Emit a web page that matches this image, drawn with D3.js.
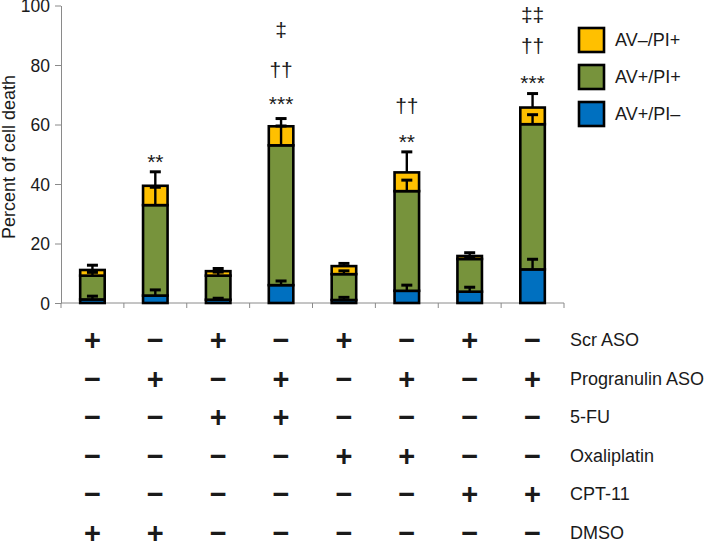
<!DOCTYPE html>
<html><head><meta charset="utf-8">
<script src="https://cdn.jsdelivr.net/npm/d3@7"></script>
<style>
body{margin:0;background:#fff}
svg{display:block}
text{font-family:"Liberation Sans",Arial,sans-serif;fill:#1a1a1a}
</style>
</head><body>
<svg id="c" width="709" height="542"></svg>
<script>
// ---- data ----
const groups = ["1","2","3","4","5","6","7","8"];
const seriesNames = ["AV+/PI–","AV+/PI+","AV–/PI+"];          // bottom → top
const avPosPiNeg = [1.2, 2.5, 1.1, 6.0, 1.0, 4.1, 3.8, 11.3];   // blue
const avPosPiNegErr = [1.1, 1.9, 0.5, 1.4, 0.9, 1.9, 1.5, 3.4];
const avPosPiPos = [8.0, 30.4, 8.1, 47.0, 8.7, 33.5, 11.0, 48.8]; // green
const avPosPiPosErr = [1.1, 6.0, 1.2, 6.5, 1.1, 3.7, 0.8, 3.2];
const avNegPiPos = [1.9, 6.5, 1.5, 6.4, 2.7, 6.3, 1.0, 5.6];     // yellow
const avNegPiPosErr = [1.6, 4.7, 0.9, 2.6, 0.9, 6.9, 1.1, 4.7];
const yTicks = [0, 20, 40, 60, 80, 100];
// significance marks and the value level (data units) at which each sits
const stars = ["", "**", "", "***", "", "**", "", "***"];
const starLevel = [0, 45.0, 0, 64.4, 0, 51.6, 0, 71.5];
const daggers = ["", "", "", "††", "", "††", "", "††"];
const daggerLevel = [0, 0, 0, 75.8, 0, 63.8, 0, 84.0];
const ddaggers = ["", "", "", "‡", "", "", "", "‡‡"];
const ddaggerLevel = [0, 0, 0, 89.3, 0, 0, 0, 94.3];
const treatments = ["Scr ASO","Progranulin ASO","5-FU","Oxaliplatin","CPT-11","DMSO"];
const scrASO      = ["+","−","+","−","+","−","+","−"];
const progASO     = ["−","+","−","+","−","+","−","+"];
const fu5         = ["−","−","+","+","−","−","−","−"];
const oxaliplatin = ["−","−","−","−","+","+","−","−"];
const cpt11       = ["−","−","−","−","−","−","+","+"];
const dmso        = ["+","+","−","−","−","−","−","−"];

// ---- build ----
const colors = {"AV+/PI–":"#0070C0","AV+/PI+":"#77933C","AV–/PI+":"#FFC000"};
const vals = [avPosPiNeg, avPosPiPos, avNegPiPos];
const errs = [avPosPiNegErr, avPosPiPosErr, avNegPiPosErr];
const rows = groups.map((g,i)=>{const o={g}; seriesNames.forEach((s,k)=>o[s]=vals[k][i]); return o;});
const stacked = d3.stack().keys(seriesNames)(rows);

const svg = d3.select("#c");
const x = d3.scaleBand().domain(groups).range([61,564]);
const y = d3.scaleLinear().domain([0,100]).range([303,5.5]);
const bw = x.bandwidth();
const barW = bw*0.39;
const axisColor = "#8a8a8a";

// y axis
const ya = svg.append("g").attr("transform","translate(61,0)")
  .call(d3.axisLeft(y).tickValues(yTicks).tickSize(6).tickSizeOuter(0).tickPadding(5));
ya.select(".domain").attr("stroke",axisColor);
ya.selectAll(".tick line").attr("stroke",axisColor);
ya.selectAll(".tick text").attr("font-size",17.5).attr("dy","0.36em")
  .attr("font-family","Liberation Sans, Arial, sans-serif").attr("fill","#1a1a1a");

// x axis line with ticks at band boundaries
svg.append("line").attr("x1",x.range()[0]).attr("x2",x.range()[1]).attr("y1",y(0)).attr("y2",y(0)).attr("stroke",axisColor);
const bounds = groups.map(g=>x(g)).concat([x.range()[1]]);
svg.selectAll(".xt").data(bounds).join("line").attr("class","xt")
  .attr("x1",d=>d).attr("x2",d=>d).attr("y1",y(0)).attr("y2",y(0)+5).attr("stroke",axisColor);

// y title
svg.append("text").attr("transform","translate(15,157) rotate(-90)").attr("text-anchor","middle")
  .attr("font-size",18).text("Percent of cell death");

// bars
stacked.forEach(s=>{
  svg.append("g").selectAll("rect").data(s).join("rect")
    .attr("x",d=>x(d.data.g)+(bw-barW)/2).attr("width",barW)
    .attr("y",d=>y(d[1])).attr("height",d=>y(d[0])-y(d[1]))
    .attr("fill",colors[s.key]).attr("stroke","#000").attr("stroke-width",2.6);
});
// error bars
stacked.forEach((s,k)=>{
  const g = svg.append("g").attr("stroke","#000").attr("stroke-width",2.4);
  s.forEach((d,i)=>{
    const cx = x(d.data.g)+bw/2;
    const top = y(d[1]+errs[k][i]);
    g.append("line").attr("x1",cx).attr("x2",cx).attr("y1",y(d[1])).attr("y2",top);
    g.append("line").attr("x1",cx-5.5).attr("x2",cx+5.5).attr("y1",top).attr("y2",top).attr("stroke-width",3);
  });
});

// annotations
const marks = [[stars,starLevel],[daggers,daggerLevel],[ddaggers,ddaggerLevel]];
marks.forEach(([txt,lvl])=>{
  groups.forEach((g,i)=>{
    if(!txt[i]) return;
    svg.append("text").attr("x",x(g)+bw/2).attr("y",y(lvl[i])).attr("text-anchor","middle")
      .attr("font-size",21).text(txt[i]);
  });
});

// legend
const legOrder = seriesNames.slice().reverse();
const leg = svg.append("g").selectAll("g").data(legOrder).join("g")
  .attr("transform",(d,i)=>`translate(579,${28+i*37})`);
leg.append("rect").attr("width",25).attr("height",24).attr("fill",d=>colors[d]).attr("stroke","#000").attr("stroke-width",2.6);
leg.append("text").attr("x",36).attr("y",12).attr("dominant-baseline","central").attr("font-size",18).text(d=>d);

// treatment table
const signRows = [scrASO, progASO, fu5, oxaliplatin, cpt11, dmso];
const ry = d3.scalePoint().domain(treatments).range([340,533]);
treatments.forEach((t,r)=>{
  svg.append("text").attr("x",570).attr("y",ry(t)).attr("dominant-baseline","central").attr("font-size",18).text(t);
  svg.append("g").selectAll("text").data(signRows[r]).join("text")
    .attr("x",(d,i)=>x(groups[i])+bw/2).attr("y",ry(t)).attr("text-anchor","middle")
    .attr("dominant-baseline","central").attr("font-size",29).attr("font-weight","bold").text(d=>d);
});
</script>
</body></html>
